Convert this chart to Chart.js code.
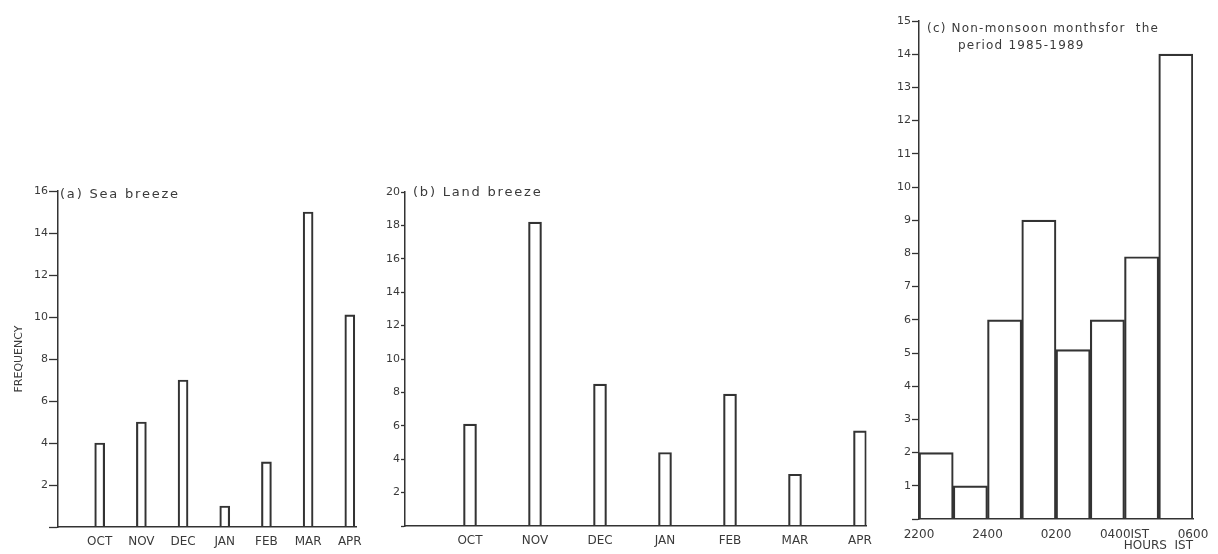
<!DOCTYPE html>
<html>
<head>
<meta charset="utf-8">
<script src="https://cdn.jsdelivr.net/npm/chart.js@4.4.1/dist/chart.umd.min.js"></script>
<style>
  body { margin: 0; width: 1218px; height: 554px; background: #fff; position: relative; overflow: hidden; }
  .panel { position: absolute; }
  .ttl { position: absolute; font-family: "DejaVu Sans", sans-serif; color: #3a3a3a; white-space: nowrap; }
</style>
</head>
<body>
<div class="panel" style="left:0;top:150px"><canvas id="seaChart" width="370" height="404"></canvas></div>
<div class="panel" style="left:360px;top:150px"><canvas id="landChart" width="520" height="404"></canvas></div>
<div class="panel" style="left:870px;top:0"><canvas id="hourChart" width="348" height="554"></canvas></div>

<div class="ttl" style="left:60px;top:186px;font-size:13px;letter-spacing:1.8px">(a) Sea breeze</div>
<div class="ttl" style="left:413px;top:184px;font-size:13px;letter-spacing:1.8px">(b) Land breeze</div>
<div class="ttl" style="left:927px;top:21px;font-size:12px;letter-spacing:1.2px">(c) Non-monsoon monthsfor&nbsp; the</div>
<div class="ttl" style="left:958px;top:38px;font-size:12px;letter-spacing:1.2px">period 1985-1989</div>

<script>
    // datos
    const months = ['OCT', 'NOV', 'DEC', 'JAN', 'FEB', 'MAR', 'APR'];
    const seaBreeze = [4, 5, 7, 1, 3.1, 15, 10.1];
    const landBreeze = [6.1, 18.2, 8.5, 4.4, 7.9, 3.1, 5.7];
    const hourLabels = ['2200', '2400', '0200', '0400IST', '0600'];
    const nonMonsoon = [2, 1, 6, 9, 5.1, 6, 7.9, 14];

    const ink = '#333';
    const textInk = '#3a3a3a';

    function yAxis(max, step, width, tickLen, title) {
        return {
            type: 'linear',
            min: 0,
            max: max,
            afterFit: (s) => { s.width = width; },
            ticks: {
                stepSize: step,
                padding: 1,
                color: textInk,
                font: { family: 'DejaVu Sans', size: 11 },
                callback: (v) => v === 0 ? '' : v
            },
            grid: { drawOnChartArea: false, drawTicks: true, tickLength: tickLen, tickColor: ink, tickWidth: 1.3 },
            border: { display: true, color: ink, width: 1.5 },
            title: title
        };
    }

    function monthAxis(max, height) {
        return {
            type: 'linear',
            offset: false,
            min: 0,
            max: max,
            afterFit: (s) => { s.height = height; },
            afterBuildTicks: (s) => { s.ticks = months.map((m, i) => ({ value: i + 1 })); },
            ticks: {
                padding: 8,
                maxRotation: 0,
                autoSkip: false,
                color: textInk,
                font: { family: 'DejaVu Sans', size: 12 },
                callback: (v) => months[v - 1] || ''
            },
            grid: { display: false, drawTicks: false },
            border: { display: true, color: ink, width: 1.5 }
        };
    }

    function barSet(values, offset) {
        return {
            data: values.map((v, i) => ({ x: i + offset, y: v })),
            backgroundColor: 'rgba(0,0,0,0)',
            borderColor: ink,
            borderWidth: 1.5
        };
    }

    // (a) brisa marina
    new Chart(document.getElementById('seaChart'), {
        type: 'bar',
        data: { datasets: [Object.assign(barSet(seaBreeze, 1), { barThickness: 10 })] },
        options: {
            responsive: false,
            animation: false,
            layout: { padding: { top: 41, right: 13, left: 0, bottom: 0 } },
            plugins: { legend: { display: false }, tooltip: { enabled: false } },
            scales: {
                x: monthAxis(7.17, 27),
                y: yAxis(16, 2, 58, 9, {
                    display: true, text: 'FREQUENCY', color: textInk,
                    font: { family: 'DejaVu Sans', size: 11 }, padding: { top: 13, bottom: 0 }
                })
            }
        }
    });

    // (b) brisa terrestre
    new Chart(document.getElementById('landChart'), {
        type: 'bar',
        data: { datasets: [Object.assign(barSet(landBreeze, 1), { barThickness: 13 })] },
        options: {
            responsive: false,
            animation: false,
            layout: { padding: { top: 42, right: 8, left: 0, bottom: 0 } },
            plugins: { legend: { display: false }, tooltip: { enabled: false } },
            scales: {
                x: monthAxis(7.1, 28),
                y: yAxis(20, 2, 45, 4, { display: false })
            }
        }
    });

    // (c) histograma por horas
    new Chart(document.getElementById('hourChart'), {
        type: 'bar',
        data: { datasets: [Object.assign(barSet(nonMonsoon, 0.5), { barPercentage: 1, categoryPercentage: 1 })] },
        options: {
            responsive: false,
            animation: false,
            layout: { padding: { top: 21, right: 25, left: 0, bottom: 0 } },
            plugins: { legend: { display: false }, tooltip: { enabled: false } },
            scales: {
                x: {
                    type: 'linear',
                    offset: false,
                    min: 0,
                    max: 8,
                    afterFit: (s) => { s.height = 35; s.paddingRight = 0; s.paddingLeft = 0; },
                    afterBuildTicks: (s) => { s.ticks = hourLabels.map((h, i) => ({ value: i * 2 })); },
                    ticks: {
                        padding: 9,
                        maxRotation: 0,
                        autoSkip: false,
                        color: textInk,
                        font: { family: 'DejaVu Sans', size: 12 },
                        callback: (v) => hourLabels[v / 2]
                    },
                    grid: { display: false, drawTicks: false },
                    border: { display: true, color: ink, width: 1.5 },
                    title: {
                        display: true, text: 'HOURS  IST', align: 'end', color: textInk,
                        font: { family: 'DejaVu Sans', size: 12 }, padding: { top: 0, bottom: 1 }
                    }
                },
                y: yAxis(15, 1, 49, 7, { display: false })
            }
        }
    });
</script>
</body>
</html>
